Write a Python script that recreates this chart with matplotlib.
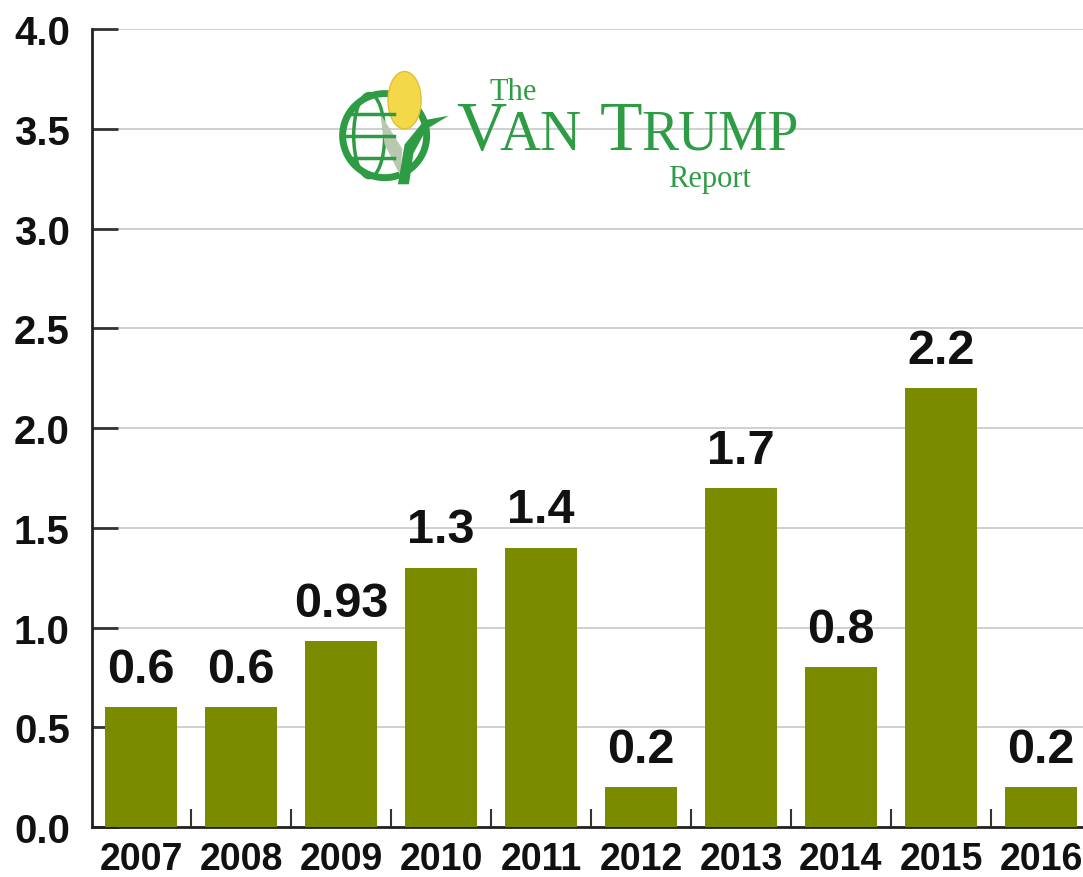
import matplotlib.pyplot as plt
import numpy as np
from matplotlib.patches import Circle, Ellipse, Polygon

years = ["2007", "2008", "2009", "2010", "2011", "2012", "2013", "2014", "2015", "2016"]
values = [0.6, 0.6, 0.93, 1.3, 1.4, 0.2, 1.7, 0.8, 2.2, 0.2]
value_labels = ["0.6", "0.6", "0.93", "1.3", "1.4", "0.2", "1.7", "0.8", "2.2", "0.2"]
y_ticks = [0.0, 0.5, 1.0, 1.5, 2.0, 2.5, 3.0, 3.5, 4.0]

BAR_COLOR = "#7b8b00"
LOGO_GREEN = "#2e9b45"
FONT = ["Liberation Sans", "DejaVu Sans"]
SERIF = ["Liberation Serif", "DejaVu Serif"]

W, H = 1083, 878
fig = plt.figure(figsize=(W / 100, H / 100), dpi=100)
ax = fig.add_axes([92 / W, 50 / H, 1 - 92 / W, 798 / H])

x = np.arange(len(years))
ax.bar(x, values, width=0.72, color=BAR_COLOR, zorder=3)

for xi, v, lab in zip(x, values, value_labels):
    ax.annotate(lab, (xi, v), xytext=(0, 11), textcoords="offset points",
                ha="center", va="bottom", fontsize=35, fontweight="bold",
                family=FONT, color="#111111")

ax.set_xlim(-0.49, 9.42)
ax.set_ylim(0, 4.0)
ax.set_yticks(y_ticks)
ax.set_yticklabels([f"{t:.1f}" for t in y_ticks], fontsize=29, fontweight="bold",
                   family=FONT, color="#111111")
ax.set_xticks(x)
ax.set_xticklabels(years, fontsize=27, fontweight="bold", family=FONT, color="#111111")
ax.set_xticks(x[:-1] + 0.5, minor=True)

ax.tick_params(axis="y", direction="in", length=19, width=2, color="#333333", pad=16)
ax.tick_params(axis="x", which="major", length=0, pad=10)
ax.tick_params(axis="x", which="minor", direction="in", length=13, width=1.5, color="#333333")

ax.grid(axis="y", color="#c8c8c8", linewidth=1.2, zorder=0)
for side in ("top", "right"):
    ax.spines[side].set_visible(False)
for side in ("left", "bottom"):
    ax.spines[side].set_linewidth(2)
    ax.spines[side].set_color("#222222")

# logo icon
icon = fig.add_axes([336 / W, (H - 190) / H, 115 / W, 120 / H])
icon.set_xlim(-1.1, 1.5)
icon.set_ylim(-1.2, 1.5)
icon.set_aspect("equal")
icon.axis("off")
icon.add_patch(Circle((0, 0), 0.95, fill=False, ec=LOGO_GREEN, lw=5))
for yy in (-0.5, 0, 0.5):
    half = np.sqrt(0.95 ** 2 - yy ** 2)
    icon.plot([-half, 0.2], [yy, yy], color=LOGO_GREEN, lw=2.5)
icon.add_patch(Ellipse((-0.35, 0), 0.7, 1.9, fill=False, ec=LOGO_GREEN, lw=2.5))
icon.add_patch(Ellipse((0.45, 0.8), 0.75, 1.3, fc="#f3d94a", ec="#e0c030", lw=1))
icon.add_patch(Polygon([[-0.1, 0.5], [0.4, -0.3], [0.35, -0.9], [0.0, -0.2]],
                       closed=True, fc="#b8c9b0", ec="none"))
icon.add_patch(Polygon([[0.3, -1.1], [0.45, -0.2], [0.9, 0.35], [1.45, 0.45],
                        [0.95, 0.15], [0.65, -0.4], [0.55, -1.1]],
                       closed=True, fc=LOGO_GREEN, ec="none"))

fig.text(490 / W, 1 - 100 / H, "The", fontsize=22, family=SERIF, color=LOGO_GREEN,
         ha="left", va="baseline")
fig.text(456 / W, 1 - 150 / H, "V", fontsize=50, family=SERIF, color=LOGO_GREEN,
         ha="left", va="baseline")
fig.text(500 / W, 1 - 150 / H, "AN", fontsize=41, family=SERIF, color=LOGO_GREEN,
         ha="left", va="baseline")
fig.text(600 / W, 1 - 150 / H, "T", fontsize=50, family=SERIF, color=LOGO_GREEN,
         ha="left", va="baseline")
fig.text(641 / W, 1 - 150 / H, "RUMP", fontsize=40, family=SERIF, color=LOGO_GREEN,
         ha="left", va="baseline")
fig.text(668 / W, 1 - 187 / H, "Report", fontsize=22, family=SERIF, color=LOGO_GREEN,
         ha="left", va="baseline")

fig.savefig("out.png", dpi=100, facecolor="white")
